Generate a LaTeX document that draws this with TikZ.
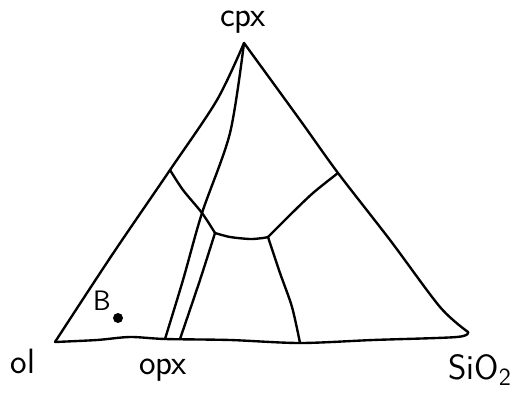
\documentclass[tikz,border=0pt]{standalone}
\usepackage{tikz}
\usetikzlibrary{positioning}

\begin{document}
\begin{tikzpicture}[
  x=0.02cm, y=-0.02cm,
  font=\fontsize{20}{20}\selectfont\sffamily,
  edge/.style={line width=1.35pt, line join=round, line cap=round},
  lbl/.style={inner sep=1pt}
]
\useasboundingbox (0,0) rectangle (516,398);

% corners of the triangle
\coordinate (ol) at (55,342);
\coordinate (cpx) at (244,43);
\coordinate (sio2) at (468,332);
\coordinate (opx) at (165,339);
\coordinate (opxb) at (180,339);
% cotectic points
\coordinate (pa) at (170,170);
\coordinate (px) at (202,213);
\coordinate (pb) at (215,233);
\coordinate (pc) at (268,237);
\coordinate (pd) at (338,173);
\coordinate (pe) at (300,343);

% triangle sides
\draw[edge] plot[smooth] coordinates {(ol) (112,255) (pa) (217,100) (cpx)};
\draw[edge] plot[smooth] coordinates {(cpx) (300,120) (pd) (390,240) (440,307) (sio2)};
\draw[edge] plot[smooth] coordinates {(ol) (97,340) (130,337) (opx) (230,340) (pe) (373,340) (457,337) (sio2)};

% cpx -- opx join
\draw[edge] plot[smooth] coordinates {(cpx) (230,133) (px) (183,280) (opx)};
\draw[edge] plot[smooth] coordinates {(pb) (200,280) (opxb)};

% field boundaries
\draw[edge] plot[smooth] coordinates {(pa) (183,190) (px) (pb)};
\draw[edge] plot[smooth] coordinates {(pb) (230,237) (250,239) (263,238) (pc)};
\draw[edge] plot[smooth] coordinates {(pc) (290,215) (313,193) (pd)};
\draw[edge] plot[smooth] coordinates {(pc) (280,273) (292,307) (pe)};

% labels
\node[lbl] (cpxlbl) at (243,22) {cpx};
\node[lbl] (ollbl) at (23,361) {ol};
\node[lbl] (opxlbl) at (163,370) {opx};
\node[lbl] (sio2lbl) at (480,370) {SiO\textsubscript{2}};
\fill (118,318) circle (5) coordinate (bdot);
\node[lbl, font=\fontsize{16}{16}\selectfont\sffamily, left=3pt of bdot, yshift=10pt] (blbl) {B};
\end{tikzpicture}
\end{document}
